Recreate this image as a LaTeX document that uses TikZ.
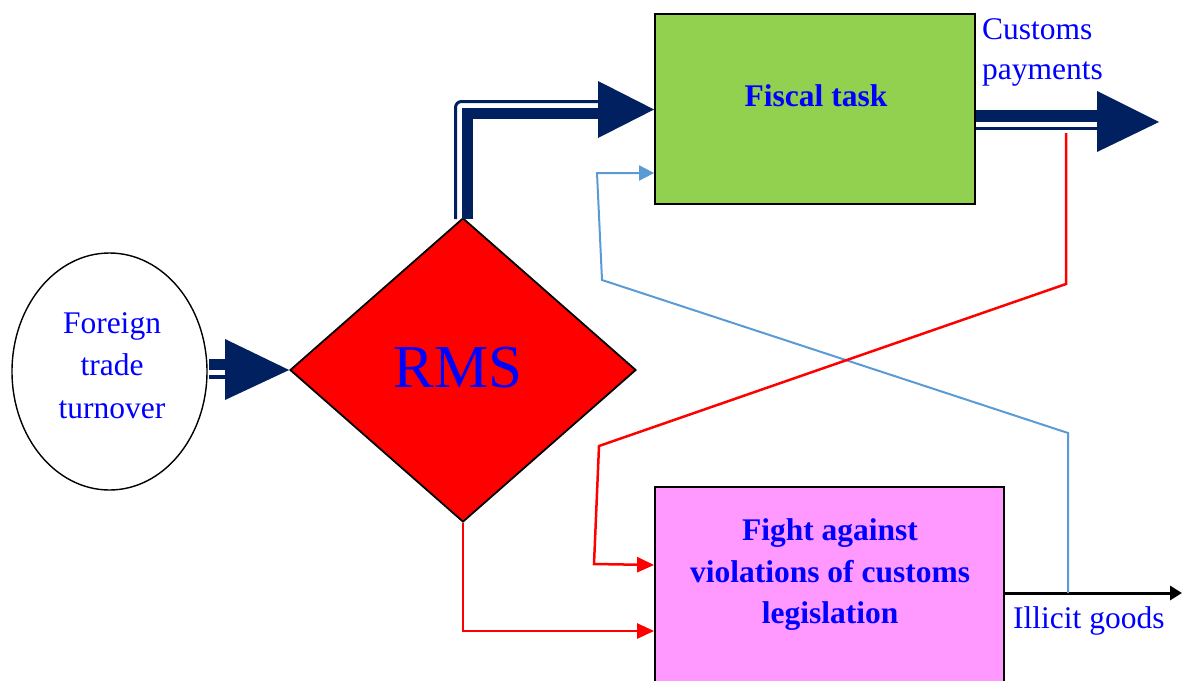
\documentclass[tikz,border=0pt]{standalone}
\usepackage{fontspec}
\setmainfont{Liberation Serif}
\usetikzlibrary{shapes.geometric,arrows.meta}
\definecolor{navy}{HTML}{002060}
\definecolor{boxgreen}{HTML}{92D050}
\definecolor{boxpink}{HTML}{FF99FF}
\definecolor{linkblue}{HTML}{5B9BD5}
\definecolor{txtblue}{HTML}{0000FF}
\begin{document}
\begin{tikzpicture}[x=1pt,y=-1pt,
  lbl/.style={text=txtblue, font=\fontsize{31.5}{42}\selectfont, inner sep=0},
  blbl/.style={lbl, font=\fontsize{31.5}{42}\selectfont\bfseries},
  shapeborder/.style={draw=black, line width=1.8pt, inner sep=0},
  bluelink/.style={linkblue, line width=2pt, -{Triangle[length=15pt,width=15pt]}},
  redlink/.style={red, line width=2.5pt, -{Triangle[length=17pt,width=15pt]}},
  blacklink/.style={black, line width=3pt, -{Triangle[length=12pt,width=14pt]}}
]
\useasboundingbox (0,0) rectangle (1182,680);
\clip (0,0) rectangle (1182,680);

% shapes
\node[shapeborder, line width=1.4pt, ellipse, fill=white, minimum width=195pt, minimum height=237pt] (ftt) at (109.5,371.5) {};
\node[shapeborder, diamond, fill=red, minimum width=346pt, minimum height=304pt] (rms) at (463,370) {};
\node[shapeborder, rectangle, fill=boxgreen, minimum width=320pt, minimum height=190pt] (fiscal) at (815,109) {};
\node[shapeborder, rectangle, fill=boxpink, minimum width=349pt, minimum height=213pt] (fight) at (829.5,593.5) {};

% texts
\node[lbl, anchor=base] (ftt1) at (112,333) {Foreign};
\node[lbl, anchor=base] (ftt2) at (112,375) {trade};
\node[lbl, anchor=base] (ftt3) at (112,418) {turnover};
\node[lbl, anchor=base, font=\fontsize{61}{70}\selectfont] (rmst) at (458,387) {RMS};
\node[blbl, anchor=base] (fiscalt) at (816,106.5) {Fiscal task};
\node[blbl, anchor=base] (fight1) at (830,540) {Fight against};
\node[blbl, anchor=base] (fight2) at (830,582) {violations of customs};
\node[blbl, anchor=base] (fight3) at (830,623) {legislation};
\node[lbl, anchor=base west] (cp1) at (982,39) {Customs};
\node[lbl, anchor=base west] (cp2) at (982,79) {payments};
\node[lbl, anchor=base west] (illicit) at (1013,628) {Illicit goods};

% big double arrow: foreign trade turnover -> RMS
\fill[navy] (209,359) rectangle (228,370);
\fill[navy] (209,375) rectangle (228,379);
\fill[navy] (225,339) -- (rms.west) -- (225,400) -- cycle;

% big double arrow: RMS -> fiscal task
\draw[navy, line width=11pt] (467.5,219) -- (467.5,113) -- (600,113);
\draw[navy, line width=3pt, rounded corners=6pt] (455.5,219) -- (455.5,101.5) -- (600,101.5);
\fill[navy] (598,81) -- (fiscal.west |- 0,109.5) -- (598,138) -- cycle;

% big double arrow: customs payments
\draw[navy, line width=12pt] (fiscal.east |- 0,116) -- (1100,116);
\draw[navy, line width=3.5pt] (fiscal.east |- 0,128.5) -- (1100,128.5);
\coordinate (cpend) at (1159,122);
\fill[navy] (1097,91) -- (cpend) -- (1097,152) -- cycle;

% black arrow: illicit goods
\coordinate (igend) at (1182,593);
\draw[blacklink] (fight.east |- 0,593) -- (igend);

% blue feedback line
\coordinate (bstart) at (1068,593);
\draw[bluelink] (bstart) -- (1068,433) -- (602,280) -- (597,173) -- (fiscal.west |- 0,173);

% red feedback line
\coordinate (rstart) at (1066,133);
\draw[redlink] (rstart) -- (1066,284) -- (599,446) -- (594,564) -- (fight.west |- 0,565);

% red line RMS -> fight
\draw[redlink] (rms.south) -- (463,631) -- (fight.west |- 0,631);
\end{tikzpicture}
\end{document}
